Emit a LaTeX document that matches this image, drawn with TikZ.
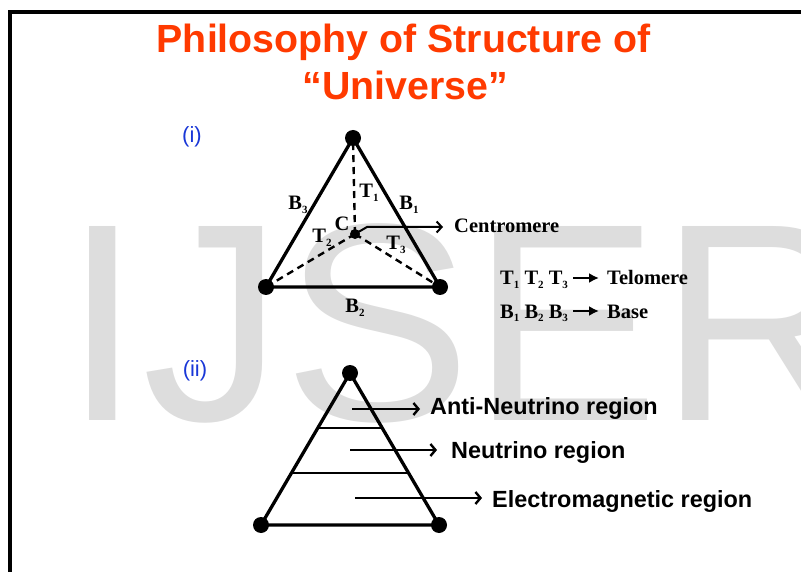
\documentclass[tikz,border=0pt]{standalone}
\usepackage{fontspec}
\setmainfont{Liberation Serif}
\newfontfamily\arialf{Liberation Sans}
\usetikzlibrary{arrows.meta}
\definecolor{titlered}{RGB}{255,58,0}
\definecolor{wmgray}{RGB}{221,221,221}
\definecolor{lblblue}{RGB}{25,55,215}
\newcommand\sbs[1]{\raisebox{-3.5pt}{\fontsize{11}{11}\selectfont #1}}
\tikzset{
  dot/.style={circle,fill=black,inner sep=0pt,minimum size=16pt},
  cdot/.style={circle,fill=black,inner sep=0pt,minimum size=10pt},
  edge/.style={line width=3.3pt,line cap=round},
  dashedge/.style={line width=2.4pt,dash pattern=on 7pt off 5pt},
  tri/.style={inner sep=0pt,font=\bfseries\fontsize{20.5}{20.5}\selectfont},
  titletxt/.style={inner sep=0pt,anchor=base,text=titlered,font=\arialf\bfseries\fontsize{39.3}{40}\selectfont},
  roman/.style={inner sep=0pt,text=lblblue,font=\arialf\fontsize{22}{22}\selectfont},
  region/.style={inner sep=0pt,anchor=base west,font=\arialf\bfseries\fontsize{23.4}{23.4}\selectfont},
  openarrow/.style={line width=2.4pt,-{Straight Barb[length=5pt,width=12pt]}},
  fillarrow/.style={line width=2.3pt,-{Latex[length=10pt,width=10pt]}},
  frameline/.style={line width=4pt}
}
\begin{document}
\begin{tikzpicture}[x=1pt,y=-1pt]
\useasboundingbox (0,0) rectangle (801,572);
% watermark
\node[anchor=base west,inner sep=0pt,text=wmgray,font=\arialf\fontsize{282}{282}\selectfont] (wm) at (63.5,420) {IJSER};
% frame
\coordinate (f1) at (10,572);
\coordinate (f2) at (10,12);
\coordinate (f3) at (801,12);
\draw[frameline] (f1) -- (f2) -- (f3);
% title
\node[titletxt] (t1) at (403.5,53) {Philosophy of Structure of};
\node[titletxt] (t2) at (405.5,100) {“Universe”};
% (i) diagram
\node[roman] (r1) at (192,137) {(i)};
\node[dot] (A) at (353,138) {};
\node[dot] (B) at (266,287) {};
\node[dot] (D) at (440,287) {};
\node[cdot] (C) at (355,234) {};
\draw[edge] (A.center) -- (B.center) -- (D.center) -- cycle;
\draw[dashedge] (C.center) -- (A.center);
\draw[dashedge] (C.center) -- (B.center);
\draw[dashedge] (C.center) -- (D.center);
\node[tri] (lB3) at (298,205) {B\sbs{3}};
\node[tri] (lT1) at (369,193) {T\sbs{1}};
\node[tri] (lB1) at (409,205) {B\sbs{1}};
\node[tri] (lC) at (342,224) {C};
\node[tri] (lT2) at (322,238) {T\sbs{2}};
\node[tri] (lT3) at (396,245) {T\sbs{3}};
\node[tri] (lB2) at (355,308) {B\sbs{2}};
\node[tri,anchor=base west] (cen) at (454,233) {Centromere};
\coordinate (cbend) at (367,227);
\coordinate (cend) at (443,227);
\draw[line width=2pt,-{Straight Barb[length=5pt,width=11pt]}] (C.center) -- (cbend) -- (cend);
\node[tri,anchor=base west] (tel1) at (500,285) {T\sbs{1} T\sbs{2} T\sbs{3}};
\node[tri,anchor=base west] (tel2) at (607,285) {Telomere};
\draw[fillarrow] ([xshift=5pt]tel1.east |- 0,278) -- ([xshift=-8pt]tel2.west |- 0,278);
\node[tri,anchor=base west] (bas1) at (500,318) {B\sbs{1} B\sbs{2} B\sbs{3}};
\node[tri,anchor=base west] (bas2) at (607,318) {Base};
\draw[fillarrow] ([xshift=5pt]bas1.east |- 0,311) -- ([xshift=-8pt]bas2.west |- 0,311);
% (ii) diagram
\node[roman] (r2) at (195,371) {(ii)};
\node[dot] (P) at (350,373) {};
\node[dot] (Q) at (261,525) {};
\node[dot] (R) at (439,525) {};
\draw[edge] (P.center) -- (Q.center) -- (R.center) -- cycle;
\coordinate (h1a) at (318,428);
\coordinate (h1b) at (382,428);
\coordinate (h2a) at (292,473);
\coordinate (h2b) at (408,473);
\draw[line width=2.6pt] (h1a) -- (h1b);
\draw[line width=2.6pt] (h2a) -- (h2b);
\node[region] (an) at (430,414) {Anti-Neutrino region};
\node[region] (ne) at (451,458) {Neutrino region};
\node[region] (em) at (492,507) {Electromagnetic region};
\coordinate (a1) at (352,409);
\coordinate (a2) at (350,450);
\coordinate (a3) at (355,498);
\draw[openarrow] (a1) -- ([xshift=-10pt]an.west |- a1);
\draw[openarrow] (a2) -- ([xshift=-14pt]ne.west |- a2);
\draw[openarrow] (a3) -- ([xshift=-10pt]em.west |- a3);
\end{tikzpicture}
\end{document}
